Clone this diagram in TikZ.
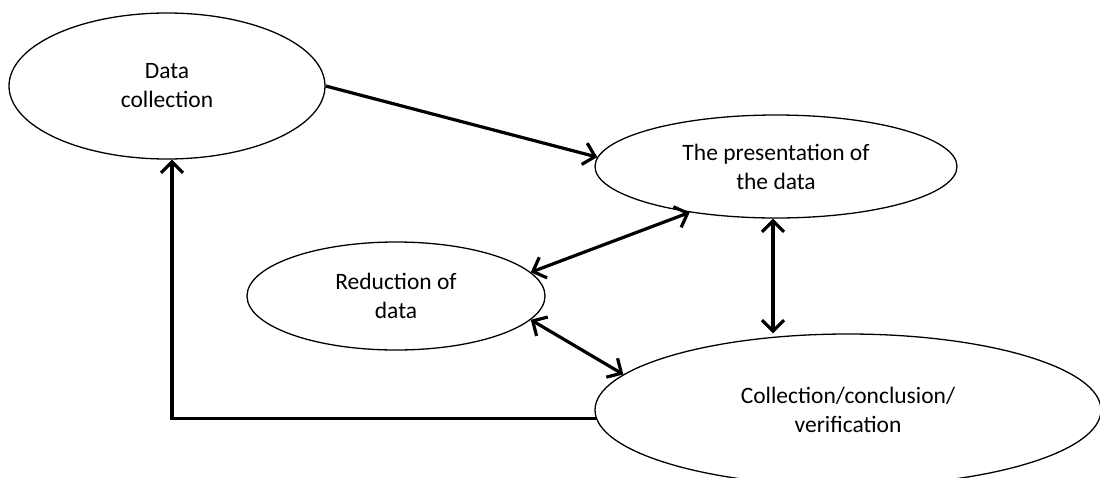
\documentclass[tikz,border=0pt]{standalone}
\usepackage{fontspec}
\setmainfont{Carlito}
\usetikzlibrary{arrows.meta,shapes.geometric}
\tikzset{
  bubble/.style={draw, ellipse, line width=1.3pt, inner sep=0pt, align=center,
    font=\fontsize{23.5}{29}\selectfont},
  tip/.style={Straight Barb[length=11pt,width=22pt,line width=3.2pt]},
  conn/.style={line width=3.2pt, -{Straight Barb[length=11pt,width=22pt,line width=3.2pt]}},
  biconn/.style={line width=3.2pt, {Straight Barb[length=11pt,width=22pt,line width=3.2pt]}-{Straight Barb[length=11pt,width=22pt,line width=3.2pt]}}
}
\begin{document}
\begin{tikzpicture}[x=1pt,y=-1pt]
\useasboundingbox (0,0) rectangle (1100,477);
\clip (0,0) rectangle (1100,477);
\node[bubble, minimum width=316pt, minimum height=146pt] (dc) at (167,86) {Data\\collection};
\node[bubble, minimum width=362pt, minimum height=103pt] (pres) at (776,166.5) {The presentation of\\the data};
\node[bubble, minimum width=298pt, minimum height=108pt] (red) at (396,296) {Reduction of\\data};
\node[bubble, minimum width=506pt, minimum height=152pt] (coll) at (848,410) {Collection/conclusion/\\verification};
\coordinate (vx) at (773,0);
\coordinate (corner) at (172,419);
\draw[conn] (dc.east) -- (pres.177);
\draw[biconn] (red.10) -- (pres.208);
\draw[biconn] (pres.south -| vx) -- (coll.north -| vx);
\draw[biconn] (red.-10) -- (coll.171);
\draw[conn] (coll.182) -- (coll.182 -| corner) -- (corner |- dc.south);
\end{tikzpicture}
\end{document}
